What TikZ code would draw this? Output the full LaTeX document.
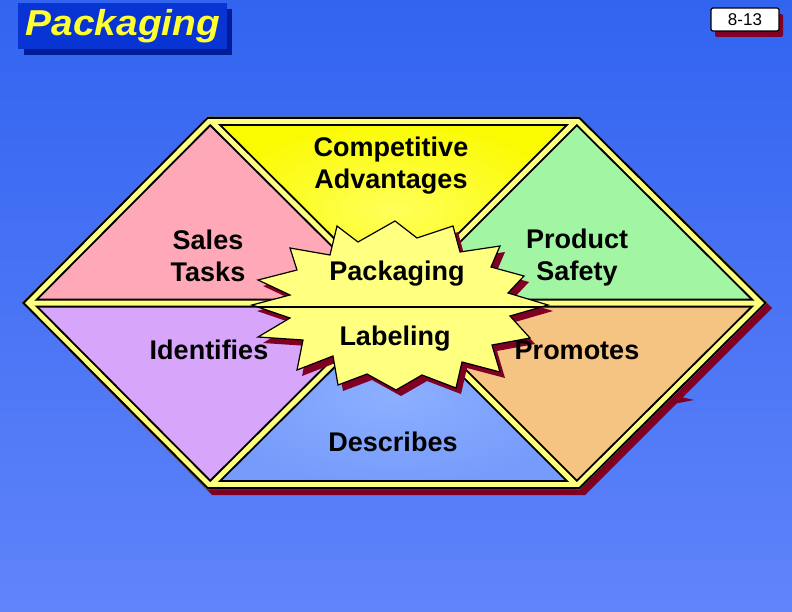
\documentclass[tikz,border=0pt]{standalone}
\usepackage{fontspec}
\setmainfont{Liberation Sans}
\newfontfamily\titlefont{Liberation Sans}[FakeStretch=1.08]
\definecolor{bgtop}{RGB}{50,100,240}
\definecolor{bgbot}{RGB}{96,132,250}
\definecolor{pinkc}{RGB}{255,168,184}
\definecolor{yelc}{RGB}{250,250,0}
\definecolor{yelin}{RGB}{255,255,90}
\definecolor{greenc}{RGB}{162,245,162}
\definecolor{purpc}{RGB}{215,165,250}
\definecolor{bluec}{RGB}{118,155,250}
\definecolor{bluein}{RGB}{140,175,255}
\definecolor{orangec}{RGB}{245,195,130}
\definecolor{bandc}{RGB}{255,255,128}
\definecolor{starc}{RGB}{255,255,128}
\definecolor{shadc}{RGB}{128,0,36}
\definecolor{titlebg}{RGB}{8,52,212}
\definecolor{titlesh}{RGB}{0,28,150}
\definecolor{titletx}{RGB}{255,255,50}
\newcommand\mystarburst[1]{\path[#1] (337,226)--(358,242)--(395,221)--(417,238)--(453,226)--(460,252)--(500,246)--(491,267)--(524,276)--(508,293)--(548,305)--(510,316)--(530,338)--(492,345)--(500,372)--(462,362)--(456,388)--(422,375)--(396,390)--(367,374)--(338,385)--(333,356)--(297,370)--(303,340)--(258,337)--(290,318)--(252,305)--(290,295)--(258,280)--(297,270)--(290,248)--(330,255)--cycle;}
\newcommand\myhexpath{(207,117)--(580,117)--(767,303)--(580,489)--(207,489)--(22,303)--cycle}
\tikzset{
  lbl/.style={font=\fontsize{27}{32}\selectfont\bfseries, align=center, inner sep=0pt, text=black},
}
\begin{document}
\begin{tikzpicture}[x=1pt,y=-1pt]
\useasboundingbox (0,0) rectangle (792,612);
\shade[top color=bgtop, bottom color=bgbot] (0,0) rectangle (792,612);

% title
\fill[titlesh] (24,9) rectangle (232,55);
\fill[titlebg] (18,3) rectangle (227,49);
\node[font=\titlefont\fontsize{36}{40}\selectfont\bfseries\itshape, text=titletx, inner sep=0pt] (title) at (123,26) {Packaging};

% page number
\fill[shadc, rounded corners=2pt] (715,14) rectangle (783,37);
\draw[fill=white, line width=1.2pt, rounded corners=2pt] (711,8) rectangle (779,31);
\node[font=\fontsize{17}{20}\selectfont, inner sep=0pt] (pagenum) at (745,20) {8-13};

% coordinates
\coordinate (A) at (207,117);
\coordinate (B) at (580,117);
\coordinate (C) at (767,303);
\coordinate (D) at (580,489);
\coordinate (E) at (207,489);
\coordinate (F) at (22,303);
\coordinate (O) at (394,303);

% hexagon shadow
\fill[shadc] (212,122)--(585,122)--(772,308)--(585,495)--(212,495)--(27,308)--cycle;
\fill[shadc] (668,394)--(694,400)--(668,405)--cycle;

\begin{scope}
\clip \myhexpath;
\fill[pinkc] (F)--(A)--(O)--cycle;
\shade[inner color=yelin, outer color=yelc] (A)--(B)--(O)--cycle;
\fill[greenc] (B)--(C)--(O)--cycle;
\fill[orangec] (C)--(D)--(O)--cycle;
\shade[inner color=bluein, outer color=bluec] (D)--(E)--(O)--cycle;
\fill[purpc] (E)--(F)--(O)--cycle;
% black under-bands
\draw[black, line width=18pt] \myhexpath;
\draw[black, line width=9pt] (A)--(O) (B)--(O) (D)--(O) (E)--(O) (F)--(C);
% yellow bands
\draw[bandc, line width=14pt] \myhexpath;
\draw[bandc, line width=5pt] (A)--(O) (B)--(O) (D)--(O) (E)--(O) (F)--(C);
% outer black line
\draw[black, line width=4pt] \myhexpath;
\end{scope}

% starburst
\mystarburst{fill=shadc, shift={(5,6)}}
\mystarburst{fill=starc}
\begin{scope}
\mystarburst{clip}
\draw[black, line width=1.2pt] (240,307)--(560,307);
\end{scope}
\mystarburst{draw=black, line width=1.2pt, line join=miter}

% labels
\node[lbl] (comp) at (391,166) {Competitive\\Advantages};
\node[lbl] (sales) at (208,256) {Sales\\Tasks};
\node[lbl] (prod) at (577,258) {Product\\Safety};
\node[lbl] (pack) at (397,274) {Packaging};
\node[lbl] (lab) at (395,339) {Labeling};
\node[lbl] (ident) at (209,350) {Identifies};
\node[lbl] (prom) at (577,350) {Promotes};
\node[lbl] (desc) at (393,442) {Describes};
\end{tikzpicture}
\end{document}
